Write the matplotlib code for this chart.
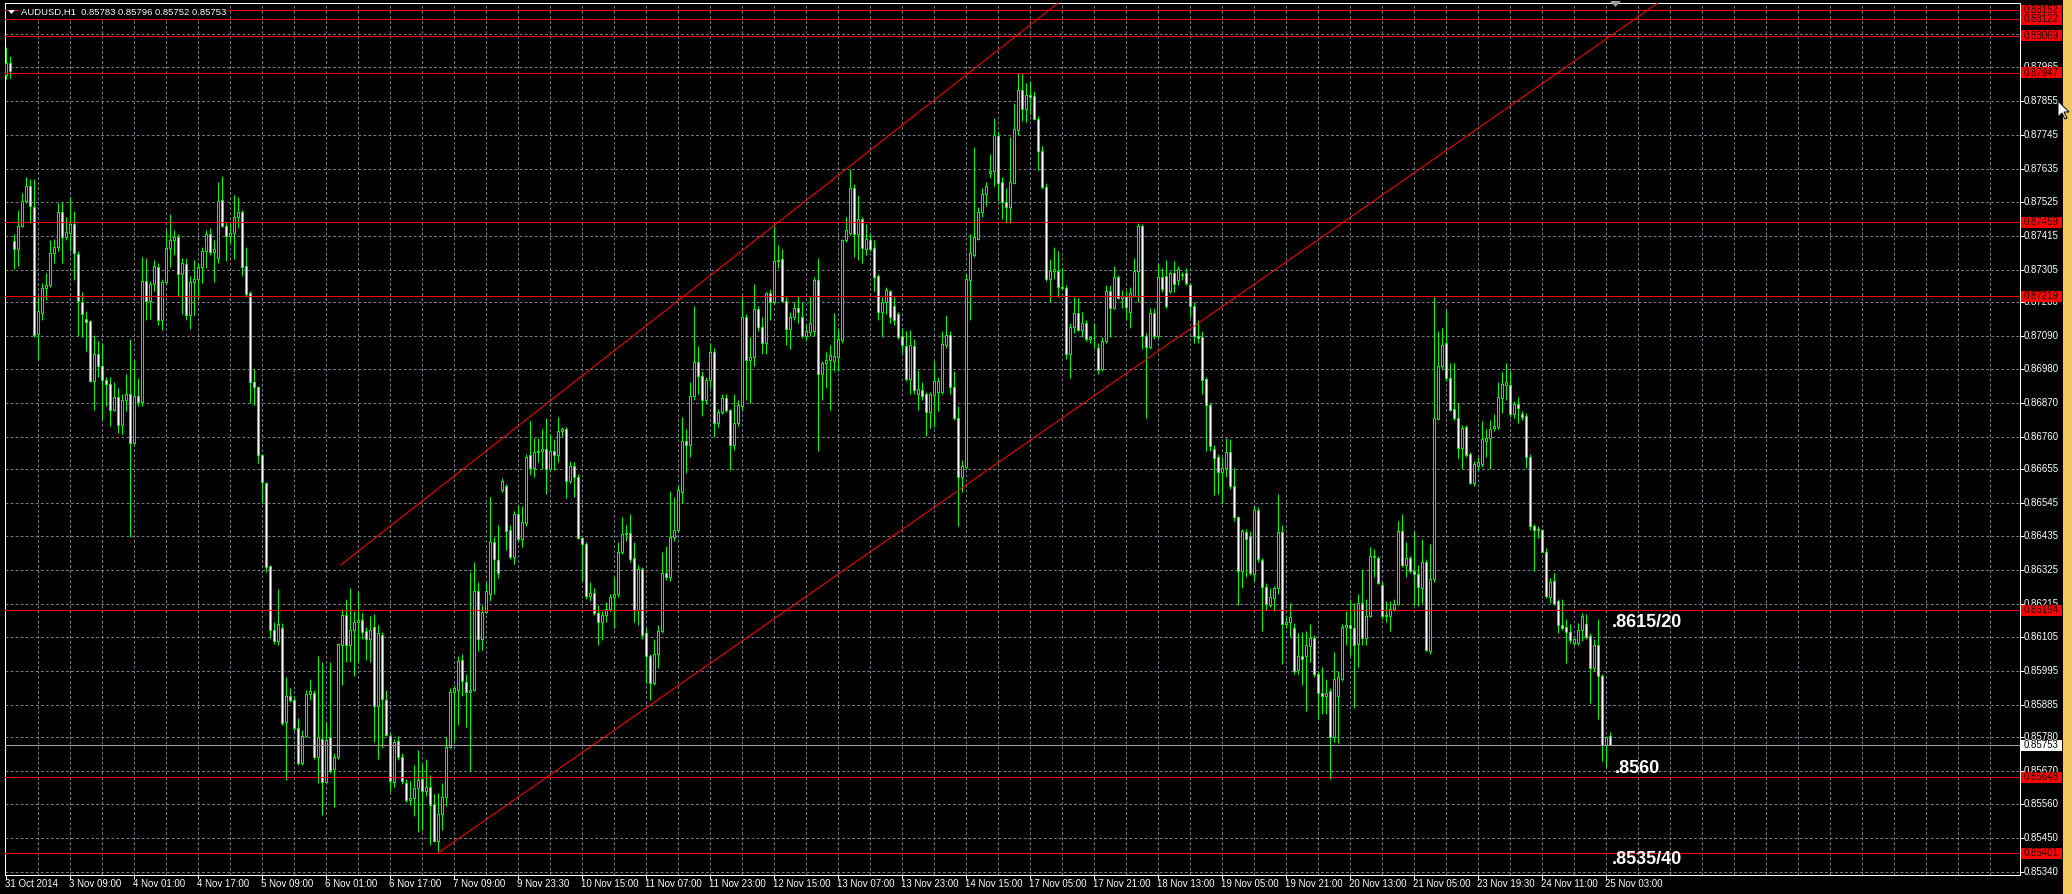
import numpy as np
import matplotlib
matplotlib.use("Agg")
import matplotlib.pyplot as plt
from matplotlib.patches import Rectangle, Polygon

# ---------------- data (prices in points, 1e-5) ----------------
symbol = "AUDUSD,H1"
opens = [
 87939,87980,87399,87371,87447,87529,87578,87511,87095,87164,
 87245,87254,87358,87380,87492,87410,87425,87453,87356,87198,
 87145,87138,86940,87030,86992,86944,86933,86847,86890,86797,
 86881,86899,86740,86892,86874,87269,87202,87258,87315,87141,
 87265,87376,87403,87412,87291,87325,87156,87265,87276,87313,
 87365,87421,87362,87343,87533,87447,87414,87425,87477,87492,
 87317,87228,86937,86922,86700,86610,86337,86129,86092,86136,
 85830,85915,85900,85808,85696,85782,85919,85923,85715,85774,
 85632,85778,85674,85715,86080,86177,86080,86129,86155,86162,
 86125,86099,86140,85882,86114,85900,85782,85632,85767,85715,
 85629,85573,85581,85614,85644,85603,85618,85562,85439,85529,
 85584,85748,85927,85934,86032,85960,85927,85934,86255,86099,
 86188,86247,86415,86356,86586,86598,86456,86367,86508,86426,
 86478,86699,86658,86710,86713,86721,86654,86713,86699,86780,
 86784,86616,86665,86628,86430,86408,86240,86251,86184,86155,
 86177,86199,86236,86247,86385,86441,86445,86363,86195,86329,
 86118,86043,85957,86050,86125,86315,86303,86434,86456,86579,
 86747,86732,86892,87004,86959,86881,86944,87037,86803,86840,
 86885,86847,86732,86803,86859,87149,87011,87019,87175,87119,
 87067,87228,87198,87332,87340,87202,87112,87149,87179,87149,
 87089,87100,87104,87272,86963,87000,87011,87008,87019,87074,
 87403,87425,87570,87421,87470,87373,87403,87376,87284,87168,
 87198,87235,87186,87160,87089,87056,86948,87056,86899,86911,
 86899,86840,86896,86907,86907,87060,87093,86922,86821,86628,
 86661,87272,87354,87406,87492,87552,87619,87626,87742,87592,
 87526,87511,87589,87760,87891,87831,87876,87872,87797,87693,
 87574,87276,87302,87302,87250,87246,87030,87119,87164,87108,
 87130,87078,87082,87049,86981,87071,87235,87179,87280,87213,
 87217,87168,87220,87302,87447,87089,87052,87164,87089,87280,
 87284,87235,87295,87272,87287,87295,87254,87186,87089,87085,
 86948,86862,86721,86695,86643,86658,86710,86598,86497,86322,
 86449,86437,86311,86520,86356,86270,86210,86233,86266,86449,
 86147,86155,86136,85998,86043,86043,86076,86103,85986,85923,
 85915,85930,85778,85912,85968,86140,86144,86136,86084,86218,
 86103,86173,86371,86363,86277,86173,86173,86199,86214,86452,
 86341,86363,86322,86311,86266,86352,86061,86296,86818,86989,
 87067,86952,86851,86821,86724,86791,86702,86609,86665,86672,
 86747,86754,86788,86792,86885,86929,86929,86833,86866,86833,
 86829,86695,86467,86456,86456,86385,86236,86288,86222,86144,
 86140,86121,86088,86088,86129,86147,86110,86006,86080,85979,
 85752,85783]
highs = [
 88032,88003,87421,87499,87555,87607,87600,87600,87217,87261,
 87295,87403,87406,87522,87526,87477,87542,87496,87365,87232,
 87170,87141,87093,87071,87067,86955,86955,86937,86918,86899,
 86963,87078,87011,86952,87347,87343,87269,87336,87328,87276,
 87433,87488,87433,87421,87343,87343,87284,87336,87328,87380,
 87436,87440,87403,87592,87611,87462,87458,87548,87541,87499,
 87380,87235,86981,86926,86702,86612,86341,86155,86262,86151,
 85975,85938,85915,85841,85804,85934,85968,85934,86043,86024,
 85830,86024,85726,86088,86199,86229,86266,86192,86255,86185,
 86140,86173,86181,86144,86121,85934,85793,85774,85782,85729,
 85644,85636,85689,85737,85692,85707,85655,85592,85596,85629,
 85778,85938,85949,86043,86050,85986,86318,86352,86285,86211,
 86285,86564,86434,86471,86624,86605,86471,86516,86538,86534,
 86702,86810,86754,86754,86784,86821,86769,86751,86825,86791,
 86791,86680,86676,86639,86434,86415,86285,86266,86211,86192,
 86220,86247,86303,86415,86497,86471,86508,86415,86341,86333,
 86136,86050,86099,86144,86382,86404,86583,86564,86601,86825,
 86784,86937,87186,87056,86974,86955,87067,87049,86851,86899,
 86899,86851,86899,86881,87217,87160,87085,87258,87186,87149,
 87232,87243,87447,87384,87373,87217,87168,87198,87220,87198,
 87123,87217,87280,87343,87008,87037,87060,87164,87112,87406,
 87477,87634,87585,87548,87477,87455,87421,87403,87291,87217,
 87250,87239,87217,87168,87115,87104,87108,87078,86978,86937,
 86907,86907,87008,86955,87104,87156,87104,86974,86859,86684,
 87291,87421,87704,87511,87570,87592,87682,87801,87753,87607,
 87570,87738,87850,87947,87943,87913,87920,87887,87805,87708,
 87589,87340,87380,87365,87310,87254,87130,87217,87213,87168,
 87141,87089,87130,87067,87085,87254,87254,87317,87287,87239,
 87235,87250,87343,87458,87455,87097,87179,87179,87328,87310,
 87336,87302,87332,87317,87298,87310,87261,87198,87141,87104,
 86955,86870,86732,86702,86695,86754,86751,86658,86501,86460,
 86460,86452,86534,86531,86363,86281,86266,86274,86572,86471,
 86173,86218,86151,86118,86121,86125,86147,86114,85994,86009,
 85968,85941,86058,85994,86147,86192,86229,86218,86247,86329,
 86229,86400,86393,86371,86285,86222,86225,86229,86486,86508,
 86415,86371,86452,86341,86426,86359,86408,87217,87104,87115,
 87172,87000,87000,86870,86799,86799,86710,86680,86695,86810,
 86784,86814,86833,86937,86970,87000,86974,86877,86888,86844,
 86836,86702,86475,86467,86460,86397,86300,86315,86229,86229,
 86166,86147,86103,86151,86185,86181,86118,86099,86166,85986,
 85782,85796]
lows = [
 87928,87932,87306,87317,87444,87522,87458,87085,87011,87141,
 87207,87250,87328,87365,87328,87403,87365,87272,87089,87085,
 87039,86937,86847,86955,86818,86859,86795,86844,86773,86769,
 86844,86433,86736,86859,86859,87141,87145,87235,87126,87108,
 87258,87313,87354,87220,87160,87141,87112,87156,87213,87261,
 87310,87354,87265,87328,87444,87332,87392,87340,87440,87284,
 87217,86870,86862,86673,86545,86318,86103,86084,86080,85819,
 85640,85893,85800,85689,85689,85778,85900,85707,85629,85525,
 85629,85662,85551,85707,85949,86024,86024,85979,86024,86099,
 86032,86024,85763,85707,85744,85782,85603,85618,85703,85625,
 85566,85558,85521,85469,85477,85588,85428,85436,85406,85477,
 85555,85744,85763,85819,85912,85811,85670,85930,86061,86065,
 86185,86222,86247,86300,86579,86389,86359,86344,86419,86400,
 86467,86635,86627,86676,86654,86572,86650,86650,86676,86758,
 86560,86609,86564,86426,86288,86229,86225,86177,86080,86095,
 86155,86192,86136,86236,86378,86419,86352,86155,86144,86099,
 85957,85900,85949,86006,86118,86292,86288,86419,86449,86545,
 86642,86695,86881,86899,86829,86866,86918,86758,86792,86833,
 86840,86650,86717,86795,86847,86881,86870,86992,87104,87030,
 87030,87141,87194,87310,87198,87060,87045,87141,87130,87082,
 87074,87089,87089,86713,86881,86918,86847,86974,86974,87067,
 87395,87418,87347,87338,87328,87354,87365,87235,87141,87085,
 87160,87130,87123,87078,87034,86940,86899,86899,86847,86881,
 86762,86788,86792,86844,86899,87049,86899,86814,86467,86579,
 86654,87141,87347,87403,87477,87514,87604,87578,87529,87470,
 87458,87458,87585,87745,87790,87786,87812,87794,87630,87567,
 87269,87198,87276,87217,87243,87015,86952,87097,87104,87085,
 87071,87067,87049,86966,86974,87067,87085,87175,87209,87179,
 87141,87115,87217,87198,87045,86822,87045,87078,87082,87232,
 87179,87228,87232,87254,87272,87254,87149,87067,87067,86899,
 86713,86713,86568,86572,86545,86627,86590,86486,86210,86266,
 86303,86307,86288,86352,86125,86195,86203,86192,86247,86017,
 86136,86106,85986,85986,85949,85864,86024,85975,85837,85856,
 85856,85644,85763,85759,85964,86080,86047,85875,86009,86080,
 86080,86170,86303,86278,86166,86155,86125,86192,86210,86333,
 86303,86315,86210,86207,86218,86061,86050,86285,86814,86981,
 86940,86844,86814,86691,86654,86695,86605,86598,86650,86661,
 86695,86654,86777,86784,86836,86881,86825,86821,86806,86814,
 86657,86456,86322,86430,86382,86233,86218,86210,86118,86129,
 86021,86088,86080,86080,86092,86099,85890,85994,85837,85700,
 85681,85752]
closes = [
 87980,87952,87373,87447,87529,87578,87514,87093,87170,87245,
 87254,87358,87380,87492,87410,87429,87453,87358,87202,87160,
 87134,86940,87030,86992,86944,86933,86847,86890,86797,86881,
 86899,86740,86892,86874,87269,87202,87258,87317,87141,87265,
 87376,87403,87412,87291,87328,87156,87265,87276,87313,87365,
 87421,87362,87373,87529,87447,87414,87425,87477,87492,87313,
 87224,86937,86922,86699,86612,86333,86129,86092,86148,85826,
 85915,85900,85808,85696,85782,85919,85930,85715,85778,85632,
 85770,85670,85715,86084,86177,86080,86129,86155,86162,86121,
 86099,86129,85882,86118,85904,85785,85636,85763,85715,85636,
 85573,85581,85614,85640,85603,85618,85558,85439,85529,85584,
 85748,85927,85938,86028,85964,85927,85934,86255,86099,86188,
 86255,86415,86359,86315,86616,86452,86367,86508,86426,86482,
 86695,86658,86710,86713,86721,86654,86713,86699,86780,86784,
 86616,86665,86628,86430,86408,86240,86251,86184,86155,86177,
 86199,86236,86247,86385,86441,86445,86359,86195,86329,86114,
 86043,85957,86050,86125,86315,86303,86434,86456,86586,86747,
 86732,86892,87004,86959,86881,86944,87037,86803,86840,86885,
 86847,86732,86803,86862,87149,87011,87019,87175,87119,87067,
 87228,87198,87332,87336,87202,87112,87149,87179,87168,87089,
 87104,87130,87272,86963,87000,87011,87026,87022,87078,87403,
 87433,87570,87421,87470,87376,87406,87373,87280,87168,87198,
 87239,87149,87141,87085,87060,86948,87060,86911,86914,86892,
 86840,86899,86940,86940,87063,87093,86922,86821,86628,86665,
 87276,87358,87410,87492,87552,87578,87626,87745,87589,87526,
 87511,87592,87764,87891,87831,87876,87868,87797,87693,87574,
 87276,87302,87306,87250,87246,87030,87119,87164,87108,87130,
 87078,87085,87082,86978,87071,87235,87179,87280,87213,87220,
 87183,87228,87302,87447,87089,87052,87164,87089,87280,87243,
 87186,87295,87258,87306,87291,87261,87186,87089,87082,86944,
 86862,86728,86691,86643,86658,86710,86598,86497,86322,86452,
 86426,86315,86520,86359,86270,86214,86236,86266,86449,86147,
 86155,86170,85994,86043,86035,86080,86103,85986,85923,85915,
 85923,85778,85968,85975,86140,86144,86136,86080,86218,86103,
 86173,86371,86367,86281,86173,86177,86199,86214,86452,86341,
 86363,86322,86311,86270,86352,86065,86296,86821,86992,87060,
 86952,86847,86821,86724,86788,86699,86609,86672,86676,86751,
 86754,86784,86795,86888,86933,86937,86833,86866,86855,86825,
 86695,86467,86456,86460,86385,86240,86285,86214,86144,86136,
 86121,86095,86099,86129,86173,86106,86006,86080,85979,85752,
 85778,85753]

price_ticks = [0.88075, 0.87965, 0.87855, 0.87745, 0.87635, 0.87525, 0.87415,
               0.87305, 0.87200, 0.87090, 0.86980, 0.86870, 0.86760, 0.86655,
               0.86545, 0.86435, 0.86325, 0.86215, 0.86105, 0.85995, 0.85885,
               0.85780, 0.85670, 0.85560, 0.85450, 0.85340]
hidden_tick_labels = [0.88075]      # fully covered by a level label in the reference
date_labels = ["31 Oct 2014", "3 Nov 09:00", "4 Nov 01:00", "4 Nov 17:00",
               "5 Nov 09:00", "6 Nov 01:00", "6 Nov 17:00", "7 Nov 09:00",
               "9 Nov 23:30", "10 Nov 15:00", "11 Nov 07:00", "11 Nov 23:00",
               "12 Nov 15:00", "13 Nov 07:00", "13 Nov 23:00", "14 Nov 15:00",
               "17 Nov 05:00", "17 Nov 21:00", "18 Nov 13:00", "19 Nov 05:00",
               "19 Nov 21:00", "20 Nov 13:00", "21 Nov 05:00", "23 Nov 19:30",
               "24 Nov 11:00", "25 Nov 03:00"]
date_step = 16
grid_step = 8
level_prices = [0.88152, 0.88122, 0.88069, 0.87947, 0.87459, 0.87219,
                0.86194, 0.85648, 0.85401]
bid_price = 0.85753
upper_trend = [(83.65, 0.86341), (262.5, 0.88170)]
lower_trend = [(108.0, 0.85401), (402.25, 0.88078)]
notes = [(".8615/20", 401.5, 0.86152), (".8560", 402.2, 0.85678),
         (".8535/40", 401.5, 0.85381)]

# ---------------- figure ----------------
W, H, DPI = 2072, 894, 100
PX = 72.0 / DPI
fig = plt.figure(figsize=(W / DPI, H / DPI), dpi=DPI, facecolor="black")
L_PX, R_PX, T_PX, B_PX = 5, 2020, 3, 875
ax = fig.add_axes([L_PX / W, 1 - B_PX / H, (R_PX - L_PX) / W, (B_PX - T_PX) / H])
ax.set_facecolor("black")

UIFONT = ["Liberation Sans", "DejaVu Sans"]
UISIZE = 7.0
GREEN = "#00ff00"
GRID = "#737d8a"

o = np.array(opens) / 1e5
h = np.array(highs) / 1e5
l = np.array(lows) / 1e5
c = np.array(closes) / 1e5
n = len(o)
x = np.arange(n)

XMAX = 503.5
ax.set_xlim(-0.25, XMAX)
ax.set_ylim(0.853292, 0.881754)
ymin, ymax = ax.get_ylim()
data_per_px = (ymax - ymin) / (B_PX - T_PX)

dash = (0, (4 * PX, 3 * PX))
for p in price_ticks:
    ax.axhline(p, color=GRID, lw=PX, ls=dash, zorder=1)
for k in range(grid_step, int(XMAX) + 1, grid_step):
    ax.axvline(k, color=GRID, lw=PX, ls=dash, zorder=1)

# candles
ax.vlines(x, l, h, colors=GREEN, lw=PX, zorder=3)
bull = c >= o
ax.bar(x, np.abs(c - o), bottom=np.minimum(o, c), width=0.55,
       color=np.where(bull, "black", "white"), edgecolor=GREEN,
       linewidth=PX, zorder=4)

# horizontal levels & bid line
for p in level_prices:
    ax.axhline(p, color="#ff0000", lw=PX, zorder=5)
ax.axhline(bid_price, color="#a3a3a3", lw=PX, zorder=5)

# trend lines (rays to the right)
for (x1, y1), (x2, y2) in (upper_trend, lower_trend):
    s = (y2 - y1) / (x2 - x1)
    ax.plot([x1, XMAX], [y1, y1 + s * (XMAX - x1)], color="#ff0000",
            lw=PX, zorder=5, solid_capstyle="butt")

# annotation notes
for txt, xi, yp in notes:
    ax.text(xi, yp, txt, color="white", fontsize=13, fontweight="bold",
            family=["Liberation Sans", "DejaVu Sans"], ha="left", va="center",
            zorder=7)

# axes frame / ticks
for sp in ax.spines.values():
    sp.set_color("white")
    sp.set_linewidth(PX)
ax.yaxis.tick_right()
ax.set_yticks(price_ticks)
ax.set_xticks(np.arange(0, date_step * len(date_labels), date_step))
ax.tick_params(axis="both", length=4 * PX, width=PX, color="white",
               labelleft=False, labelright=False, labelbottom=False)

ytr = ax.get_yaxis_transform()
xtr = ax.get_xaxis_transform()
lab_x = (2024 - L_PX) / (R_PX - L_PX)
for p in price_ticks:
    if p in hidden_tick_labels:
        continue
    ax.text(lab_x, p, f"{p:.5f}", transform=ytr, color="white", fontsize=UISIZE,
            family=UIFONT, ha="left", va="center", clip_on=False, zorder=6)

box_x0 = (2021 - L_PX) / (R_PX - L_PX)
box_w = 41 / (R_PX - L_PX)
hh = 5.5 * data_per_px
def price_box(p, fc, tc):
    ax.add_patch(Rectangle((box_x0, p - hh), box_w, 2 * hh, transform=ytr,
                           facecolor=fc, edgecolor="none", clip_on=False,
                           zorder=8))
    ax.text(lab_x, p, f"{p:.5f}", transform=ytr, color=tc, fontsize=UISIZE,
            family=UIFONT, ha="left", va="center", clip_on=False, zorder=9)
for p in level_prices:
    price_box(p, "#ff0000", "#1a0000")
price_box(bid_price, "white", "black")

date_y = -(884 - B_PX) / (B_PX - T_PX)
for k, lbl in enumerate(date_labels):
    ax.text(k * date_step - 0.3, date_y, lbl, transform=xtr, color="white",
            fontsize=UISIZE, family=UIFONT, ha="left", va="center", clip_on=False)

# title
title = f"{symbol}  {o[-1]:.5f} {h[-1]:.5f} {l[-1]:.5f} {c[-1]:.5f}"
fig.text(21 / W, 1 - 12 / H, title, color="white", fontsize=6.8, family=UIFONT,
         ha="left", va="center", zorder=10,
         bbox=dict(facecolor="black", edgecolor="none", pad=1.5))

def fpoly(pts, **kw):
    fig.patches.append(Polygon([(px / W, 1 - py / H) for px, py in pts],
                               closed=True, transform=fig.transFigure, **kw))

fpoly([(8, 10), (15, 10), (11.5, 14)], facecolor="white", edgecolor="none",
      zorder=11)
# chart-shift marker
fpoly([(1610, 1), (1621, 1), (1615.5, 7)], facecolor="#9c9c9c",
      edgecolor="none", zorder=11)
# right yellow strip
fig.patches.append(Rectangle((2063 / W, 0), 9 / W, 1, transform=fig.transFigure,
                             facecolor="#f0c862", edgecolor="none", zorder=11))
# mouse cursor
tip = (2058, 101)
cur = [(0, 0), (0, 16), (4, 12), (7, 18), (9, 17), (6, 11), (11, 11)]
fpoly([(tip[0] + a, tip[1] + b) for a, b in cur], facecolor="white",
      edgecolor="black", linewidth=PX, zorder=12)

fig.savefig("out.png", dpi=DPI, facecolor="black")
